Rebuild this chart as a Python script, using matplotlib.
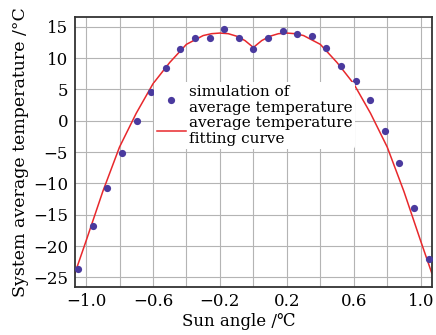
import matplotlib
matplotlib.use("Agg")
import matplotlib.pyplot as plt
import numpy as np

plt.rcParams['font.family'] = ['DejaVu Serif', 'DejaVu Sans']
plt.rcParams['mathtext.fontset'] = 'dejavuserif'

# simulated points (sun angle, average temperature)
sim_x = [-1.047, -0.960, -0.873, -0.785, -0.698, -0.611, -0.524, -0.436, -0.349,
         -0.262, -0.175, -0.087, 0.0, 0.087, 0.175, 0.262, 0.349, 0.436, 0.524,
         0.611, 0.698, 0.785, 0.873, 0.960, 1.047]
sim_y = [-23.7, -16.8, -10.8, -5.1, 0.0, 4.6, 8.4, 11.4, 13.2,
         13.2, 14.6, 13.25, 11.4, 13.25, 14.3, 13.9, 13.6, 11.65, 8.7,
         6.3, 3.3, -1.6, -6.8, -13.9, -22.1]

# fitting curve
fit_x = [-1.066, -1.0, -0.9, -0.8, -0.7, -0.6, -0.5, -0.4, -0.3, -0.25, -0.2,
         -0.15, -0.1, -0.05, 0.0, 0.05, 0.1, 0.15, 0.2, 0.25, 0.3, 0.4, 0.5,
         0.6, 0.7, 0.8, 0.9, 1.0, 1.066]
fit_y = [-24.3, -19.2, -11.3, -4.2, 1.2, 5.9, 9.3, 12.2, 13.6, 13.9, 14.0,
         13.9, 13.5, 12.8, 11.7, 12.8, 13.5, 13.9, 14.0, 13.9, 13.6, 12.2, 9.3,
         5.9, 1.2, -4.2, -11.3, -19.2, -24.3]

x_major = [-1.0, -0.6, -0.2, 0.2, 0.6, 1.0]
x_minor = [-0.8, -0.4, 0.0, 0.4, 0.8]
y_ticks = [15, 10, 5, 0, -5, -10, -15, -20, -25]

fig = plt.figure(figsize=(4.36, 3.35), dpi=100)
ax = fig.add_axes([0.172, 0.143, 0.819, 0.806])

ax.plot(sim_x, sim_y, 'o', color='#4a3a9e', ms=5.2, mec='none', zorder=3,
        label='simulation of\naverage temperature')
ax.plot(fit_x, fit_y, '-', color='#e8282c', lw=1.1, zorder=2,
        label='average temperature\nfitting curve')

ax.set_xlim(-1.066, 1.068)
ax.set_ylim(-26.55, 16.55)
ax.set_xticks(x_major)
ax.set_xticks(x_minor, minor=True)
ax.set_xticklabels([f'{v:.1f}'.replace('-', '\u2212') for v in x_major])
ax.set_yticks(y_ticks)
ax.tick_params(which='both', length=0, labelsize=12)
ax.tick_params(axis='x', pad=4)
ax.tick_params(axis='y', pad=5)

ax.grid(True, which='both', color='#b4b4b4', lw=0.8)
ax.set_axisbelow(True)
for s in ax.spines.values():
    s.set_color('#333333')
    s.set_linewidth(1.3)

ax.set_xlabel('Sun angle /\u2103', fontsize=12)
ax.xaxis.set_label_coords(0.46, -0.097)
ax.set_ylabel('System average temperature /\u00b0C', fontsize=12.5, labelpad=3)

leg = ax.legend(loc='upper left', bbox_to_anchor=(0.22, 0.76), frameon=True,
                fontsize=11, handlelength=1.9, handletextpad=0.2,
                labelspacing=0.05, borderpad=0.2, borderaxespad=0)
leg.get_frame().set_facecolor('white')
leg.get_frame().set_edgecolor('none')
leg.get_frame().set_alpha(1)

fig.savefig('out.png', dpi=100)
